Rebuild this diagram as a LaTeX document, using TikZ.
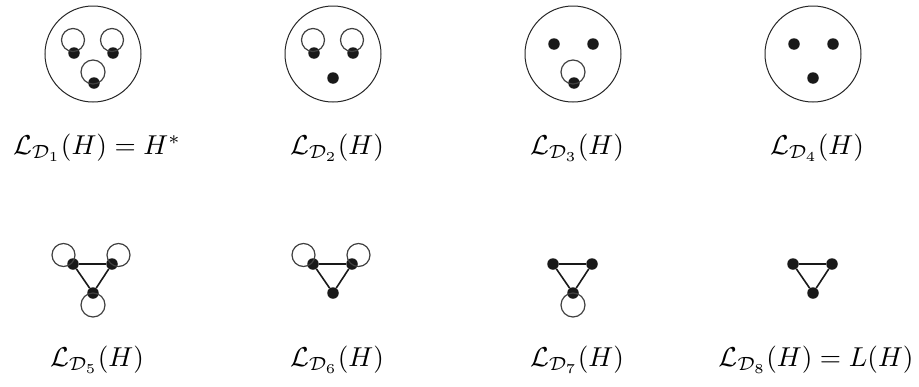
\documentclass[tikz,border=0pt]{standalone}
\newcommand{\bigmath}[1]{\scalebox{2.73}{$#1$}}
\begin{document}
\begin{tikzpicture}[x=1pt,y=-1pt,
  vtx/.style={circle,fill=black!90,inner sep=0pt,minimum size=11.5pt},
  bigc/.style={draw=black!85,line width=1pt},
  loopc/.style={draw=black!75,line width=1.2pt},
  edge/.style={draw=black!90,line width=2pt},
  lbl/.style={inner sep=0pt}]
\useasboundingbox (0,0) rectangle (919,386);
% ---------- row 1 ----------
\foreach \cx/\n in {93/1,333/2,573/3,813/4}{
  \node[bigc,circle,minimum size=96pt,inner sep=0pt] (C\n) at (\cx,54) {};
}
% panel 1
\node[vtx] (a1) at (74,53) {};
\node[vtx] (b1) at (113,53) {};
\node[vtx] (c1) at (94,83) {};
\draw[loopc] (73,40) circle[radius=11.5];
\draw[loopc] (112,40) circle[radius=11.5];
\draw[loopc] (93,72) circle[radius=12];
% panel 2
\node[vtx] (a2) at (314,53) {};
\node[vtx] (b2) at (353,53) {};
\node[vtx] (c2) at (333,78) {};
\draw[loopc] (313,40) circle[radius=11.5];
\draw[loopc] (352,40) circle[radius=11.5];
% panel 3
\node[vtx] (a3) at (554,44) {};
\node[vtx] (b3) at (593,44) {};
\node[vtx] (c3) at (574,83) {};
\draw[loopc] (573,72) circle[radius=12];
% panel 4
\node[vtx] (a4) at (794,44) {};
\node[vtx] (b4) at (833,44) {};
\node[vtx] (c4) at (813,78) {};
% labels row 1
\node[lbl] (L1) at (97,148) {\bigmath{\mathcal{L}_{\mathcal{D}_1}(H)=H^*}};
\node[lbl] (L2) at (337,148) {\bigmath{\mathcal{L}_{\mathcal{D}_2}(H)}};
\node[lbl] (L3) at (577,148) {\bigmath{\mathcal{L}_{\mathcal{D}_3}(H)}};
\node[lbl] (L4) at (817,148) {\bigmath{\mathcal{L}_{\mathcal{D}_4}(H)}};
% ---------- row 2 ----------
\foreach \cx/\n in {93/5,333/6,573/7,813/8}{
  \node[vtx] (p\n) at (\cx-20,264) {};
  \node[vtx] (q\n) at (\cx+19,264) {};
  \node[vtx] (r\n) at (\cx,293) {};
  \draw[edge] (p\n) -- (q\n);
  \draw[edge,line width=1.6pt] (q\n) -- (r\n) -- (p\n);
}
% loops row 2
\draw[loopc] (63.5,255) circle[radius=11.5];
\draw[loopc] (118.5,255) circle[radius=11.5];
\draw[loopc] (93,305) circle[radius=12];
\draw[loopc] (303.5,255) circle[radius=11.5];
\draw[loopc] (358.5,255) circle[radius=11.5];
\draw[loopc] (573,305) circle[radius=12];
% labels row 2
\node[lbl] (L5) at (97,360) {\bigmath{\mathcal{L}_{\mathcal{D}_5}(H)}};
\node[lbl] (L6) at (337,360) {\bigmath{\mathcal{L}_{\mathcal{D}_6}(H)}};
\node[lbl] (L7) at (577,360) {\bigmath{\mathcal{L}_{\mathcal{D}_7}(H)}};
\node[lbl] (L8) at (816,360) {\bigmath{\mathcal{L}_{\mathcal{D}_8}(H)=L(H)}};
\end{tikzpicture}
\end{document}
